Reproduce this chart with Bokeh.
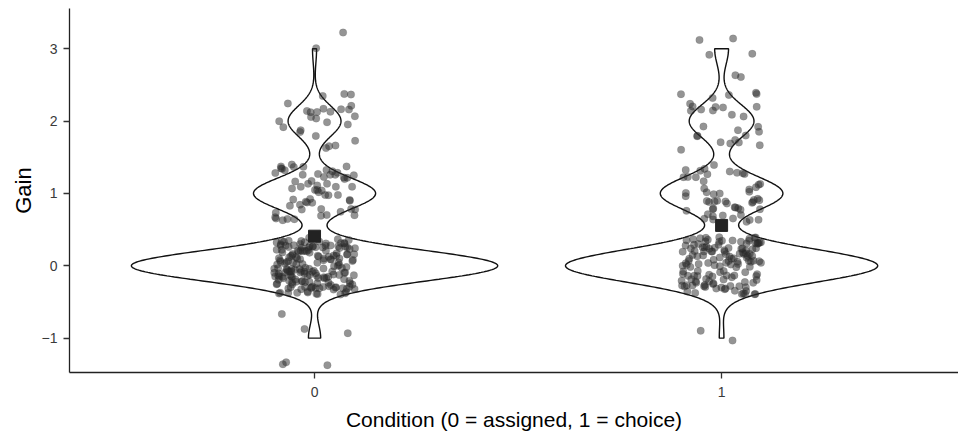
import numpy as np
from bokeh.plotting import figure
from bokeh.models import ColumnDataSource, FixedTicker
from bokeh.transform import jitter
from bokeh.embed import file_html
from bokeh.resources import INLINE

# ---- data ----
conditions = [0, 1]
x_tick_labels = {0: "0", 1: "1"}
y_ticks = [-1, 0, 1, 2, 3]
gain_values = [-1, 0, 1, 2, 3]
counts_assigned = [6, 180, 60, 26, 2]   # condition 0
counts_choice = [2, 135, 53, 28, 6]     # condition 1
x_title = "Condition (0 = assigned, 1 = choice)"
y_title = "Gain"

FONT = "Liberation Sans"
X0, X1 = -0.602, 1.582
Y0, Y1 = -1.475, 3.556


def expand(values, counts):
    return np.repeat(np.array(values, dtype=float), counts)


def nrd0(x):
    sd = np.std(x, ddof=1)
    q75, q25 = np.percentile(x, [75, 25])
    lo = min(sd, (q75 - q25) / 1.34)
    return 0.9 * lo * len(x) ** (-0.2)


def kde(x, grid):
    h = nrd0(x)
    z = (grid[:, None] - x[None, :]) / h
    return np.exp(-0.5 * z ** 2).sum(axis=1) / (len(x) * h * np.sqrt(2 * np.pi))


groups = [expand(gain_values, counts_assigned), expand(gain_values, counts_choice)]
grids = [np.linspace(g.min(), g.max(), 512) for g in groups]
dens = [kde(g, gr) for g, gr in zip(groups, grids)]
dmax = max(d.max() for d in dens)

p = figure(width=958, height=433, output_backend="svg", toolbar_location=None,
           x_range=(X0, X1), y_range=(Y0, Y1),
           min_border_left=69, min_border_top=8, min_border_right=0,
           min_border_bottom=55, background_fill_color="white",
           border_fill_color="white")
p.outline_line_color = None
p.grid.visible = False

# violins
for cond, gr, d in zip(conditions, grids, dens):
    hw = 0.45 * d / dmax
    xs = np.concatenate([cond - hw, (cond + hw)[::-1]])
    ys = np.concatenate([gr, gr[::-1]])
    p.patch(xs, ys, fill_color="white", line_color="#111111", line_width=1.4)

# jittered points
px = np.concatenate([np.full(len(g), c, dtype=float) for c, g in zip(conditions, groups)])
py = np.concatenate(groups)
src = ColumnDataSource(dict(x=px, y=py))
p.scatter(x=jitter("x", width=0.2, distribution="uniform"),
          y=jitter("y", width=0.8, distribution="uniform"),
          source=src, size=7.5, fill_color="#2a2a2a", fill_alpha=0.5,
          line_color="#2a2a2a", line_alpha=0.2, line_width=0.5)

# means
means = [g.mean() for g in groups]
p.scatter(x=conditions, y=means, marker="square", size=12,
          fill_color="#222222", line_color="#222222")

# axes
for ax in (p.xaxis[0], p.yaxis[0]):
    ax.axis_line_color = "#222222"
    ax.axis_line_width = 1.3
    ax.major_tick_line_color = "#333333"
    ax.major_tick_line_width = 1.3
    ax.major_tick_out = 6
    ax.major_tick_in = 0
    ax.minor_tick_line_color = None
    ax.major_label_text_font = FONT
    ax.major_label_text_font_size = "14px"
    ax.major_label_text_color = "#3a3a3a"
    ax.axis_label_text_font = FONT
    ax.axis_label_text_font_style = "normal"
    ax.axis_label_text_color = "black"

p.xaxis.ticker = FixedTicker(ticks=conditions)
p.xaxis.major_label_overrides = x_tick_labels
p.xaxis.axis_label = x_title
p.xaxis.axis_label_text_font_size = "21px"
p.xaxis.major_label_standoff = 8
p.xaxis.axis_label_standoff = 8

p.yaxis.ticker = FixedTicker(ticks=y_ticks)
p.yaxis.axis_label = y_title
p.yaxis.axis_label_text_font_size = "22px"
p.yaxis.major_label_standoff = 6
p.yaxis.axis_label_standoff = 3

open("out.html", "w").write(file_html(p, INLINE))
